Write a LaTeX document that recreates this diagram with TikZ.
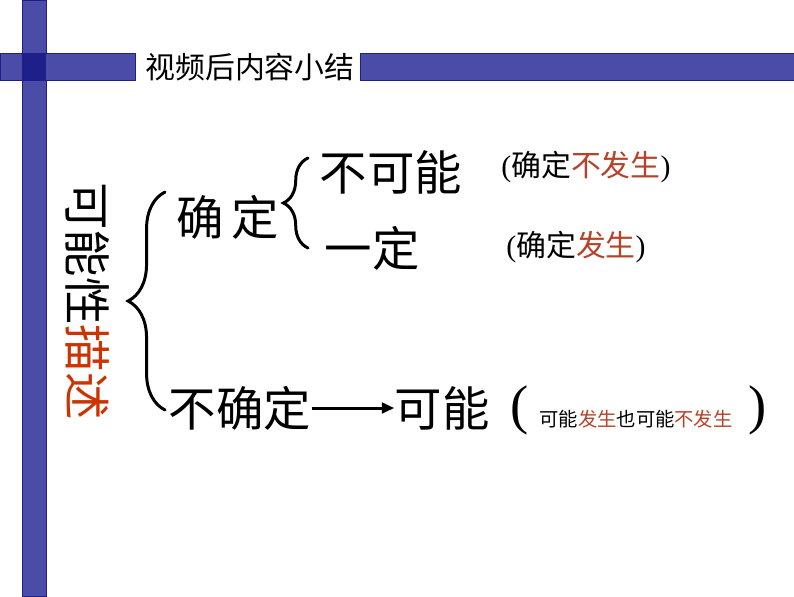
\documentclass[tikz,border=0pt]{standalone}
\usepackage{fontspec}
\usepackage{xcolor}
\usepackage{tikz}
\usetikzlibrary{arrows.meta,decorations.pathreplacing,positioning}
\newfontfamily\cjk{Noto Sans CJK SC}
\newfontfamily\latin{Liberation Serif}
\definecolor{barblue}{HTML}{4B4BA8}
\definecolor{bardark}{HTML}{1F1F8A}
\definecolor{descred}{HTML}{CC3300}
\definecolor{notered}{HTML}{B5432A}

\begin{document}
\begin{tikzpicture}[x=0.02cm, y=-0.02cm,
  big/.style={font=\cjk\fontsize{27}{30}\selectfont, inner sep=0pt},
  note/.style={font=\cjk\fontsize{17}{19}\selectfont, inner sep=0pt},
  small/.style={font=\cjk\fontsize{11}{13}\selectfont, inner sep=0pt},
  paren/.style={font=\latin\fontsize{31}{34}\selectfont, inner sep=0pt},
  bar/.style={fill=barblue, draw=bardark, line width=0.4pt},
  bracket/.style={decorate, line width=1.7pt, line cap=round}]
  \useasboundingbox[fill=white] (0,0) rectangle (794,596);

  % frame bars
  \draw[bar] (22,0) rectangle (46,596);
  \draw[bar] (0,53) rectangle (135,80);
  \draw[bar] (360,53) rectangle (794,80);
  \fill[bardark] (22,53) rectangle (46,80);
  \node[font=\cjk\fontsize{17}{20}\selectfont, inner sep=0pt] (title) at (250,67) {视频后内容小结};

  \node[big, rotate=-90] (topic) at (88,301) {可能性\textcolor{descred}{描述}};

  \node[big] (certain) at (228,217) {确\,定};
  \node[big] (impossible) at (391,172) {不可能};
  \node[big] (sure) at (372,248) {一定};
  \node[note] (note1) at (586,167) {{\latin(}确定\textcolor{notered}{不发生}{\latin)}};
  \node[note] (note2) at (576,247) {{\latin(}确定\textcolor{notered}{发生}{\latin)}};

  \node[big] (uncertain) at (240,408) {不确定};
  \node[big] (possible) at (442,408) {可能};
  \node[small] (note3) at (636,419) {可能\textcolor{notered}{发生}也可能\textcolor{notered}{不发生}};
  \node[paren] (lparen) at (520,410) {(};
  \node[paren] (rparen) at (758,410) {)};

  \coordinate (bigtop) at (165,192);
  \coordinate (bigbot) at (165,410);
  \coordinate (smalltop) at (308,158);
  \coordinate (smallbot) at (308,248);

  \draw[bracket, decoration={brace, amplitude=21pt}] (bigbot) -- (bigtop);
  \draw[bracket, decoration={brace, amplitude=14pt}] (smallbot) -- (smalltop);

  \draw[-{Triangle[length=7pt,width=6pt]}, line width=1.7pt] (uncertain.east) -- (possible.west);
\end{tikzpicture}
\end{document}
